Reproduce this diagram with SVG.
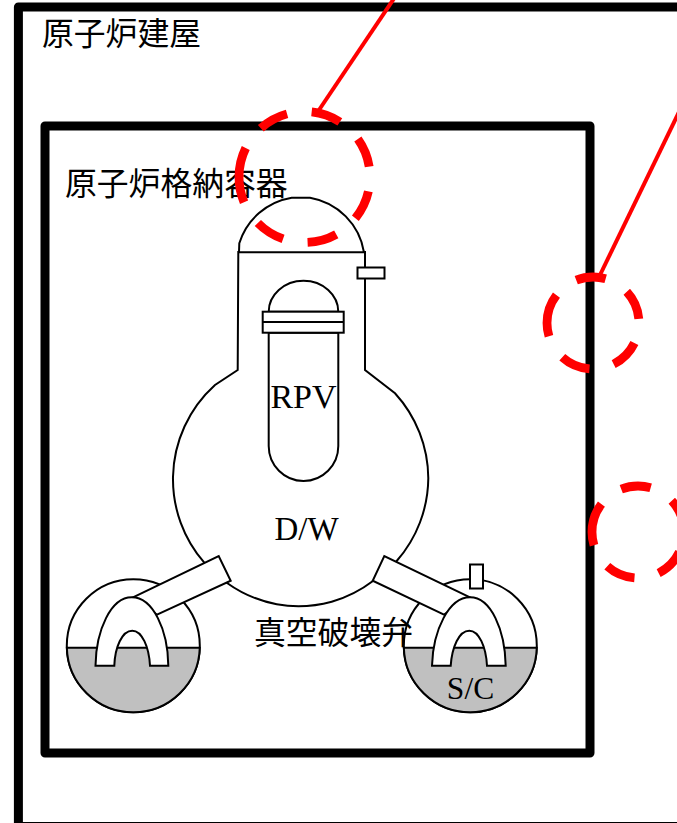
<svg xmlns="http://www.w3.org/2000/svg" width="677" height="823" viewBox="0 0 677 823">
<style>
.wall{fill:none;stroke:#000;stroke-width:9;stroke-linejoin:round}
.ln{fill:#fff;stroke:#000;stroke-width:2}
.open{fill:none;stroke:#000;stroke-width:2}
.water{fill:#c0c0c0;stroke:#000;stroke-width:2}
.mark{fill:none;stroke:#f00;stroke-width:8.800;stroke-dasharray:30 25}
.lead{fill:none;stroke:#f00;stroke-width:4}
.jp{font-family:"Noto Sans CJK JP","Noto Sans",sans-serif;font-size:31.800px;fill:#000}
.en{font-family:"Liberation Serif",serif;font-size:33px;fill:#000;text-anchor:middle}
</style>
<rect width="677" height="823" fill="#fff"/>
<g id="reactor-building">
<path class="wall" d="M18.400 830V7H690"/>
<line x1="18" y1="822.500" x2="677" y2="822.500" stroke="#000" stroke-width="1"/>
<text class="jp" x="42" y="45">原子炉建屋</text>
</g>
<g id="containment">
<rect class="wall" x="45" y="126" width="545" height="627"/>
<text class="jp" x="65" y="195">原子炉格納容器</text>
</g>
<g id="sc-left">
<circle class="ln" cx="133.300" cy="645.700" r="66.500"/>
<path class="water" d="M66.830 647.700H199.770A66.500 66.500 0 0 1 66.830 647.700Z"/>
</g>
<g id="sc-right">
<circle class="ln" cx="470.300" cy="645.700" r="66.500"/>
<path class="water" d="M403.830 647.700H536.770A66.500 66.500 0 0 1 403.830 647.700Z"/>
<rect class="ln" x="470" y="564.500" width="13" height="24"/>
<text class="en" x="470.500" y="698.500" style="font-size:31.500px">S/C</text>
</g>
<g id="drywell">
<path class="ln" d="M238.300 252L237.700 370L215 385A127 127 0 0 0 173 476.700A127 127 0 0 0 204.300 562.700L226.700 582.700A127 127 0 0 0 276.700 604.300A127 127 0 0 0 331.700 601.700A127 127 0 0 0 373.300 580.700L396.700 561A127 127 0 0 0 428.300 478.300A127 127 0 0 0 395 393.300L365 370V252Z"/>
<path class="ln" d="M239 252.300L239.300 243.300A66 66 0 0 1 291.700 197.700H310A66 66 0 0 1 364 252.300Z"/>
<rect class="ln" x="357.500" y="267.500" width="27" height="11"/>
<text class="en" x="306.500" y="540">D/W</text>
</g>
<g id="rpv">
<path class="ln" d="M268.700 311.700C268.700 295 284 280.700 303.500 280.700C323 280.700 338.300 295 338.300 311.700Z"/>
<path class="ln" d="M268.700 332.700V446A34.800 35 0 0 0 338.300 446V332.700Z"/>
<rect class="ln" x="262.700" y="311.700" width="81" height="21"/>
<line class="open" x1="262.700" y1="322" x2="343.700" y2="322"/>
<text class="en" x="303.500" y="408" style="font-size:34px">RPV</text>
</g>
<g id="vent-left">
<path class="ln" d="M133 597.300L218.700 556L230.700 580.700L157 614.700Z"/>
<path class="ln" d="M95.500 665.700C96 630 111 597.300 131.700 597.300C153 597.300 168 630 168.300 665.700H150C149 647 142 630.700 132.300 630.700C122 630.700 115 647 114.300 665.700Z"/>
</g>
<g id="vent-right">
<path class="ln" d="M470 597.300L384.300 556L372.700 580.700L444 614.700Z"/>
<path class="ln" d="M432 665.700C433 630 449 597.300 470 597.300C491 597.300 505 630 505.700 665.700H487C486 647 479 630.700 469.300 630.700C459 630.700 452 647 450.700 665.700Z"/>
</g>
<text id="vacuum-breaker" class="jp" x="254" y="644">真空破壊弁</text>
<g id="connectors">
<line class="lead" x1="395" y1="-3" x2="319" y2="110"/>
<line class="lead" x1="679" y1="112" x2="600" y2="275"/>
</g>
<g id="highlights">
<path class="mark" d="M239 177A65.500 65.500 0 1 1 370 177A65.500 65.500 0 1 1 239 177Z"/>
<path class="mark" d="M547 323A46 46 0 1 1 639 323A46 46 0 1 1 547 323Z"/>
<path class="mark" d="M592 532A46 46 0 1 1 684 532A46 46 0 1 1 592 532Z"/>
</g>
</svg>
